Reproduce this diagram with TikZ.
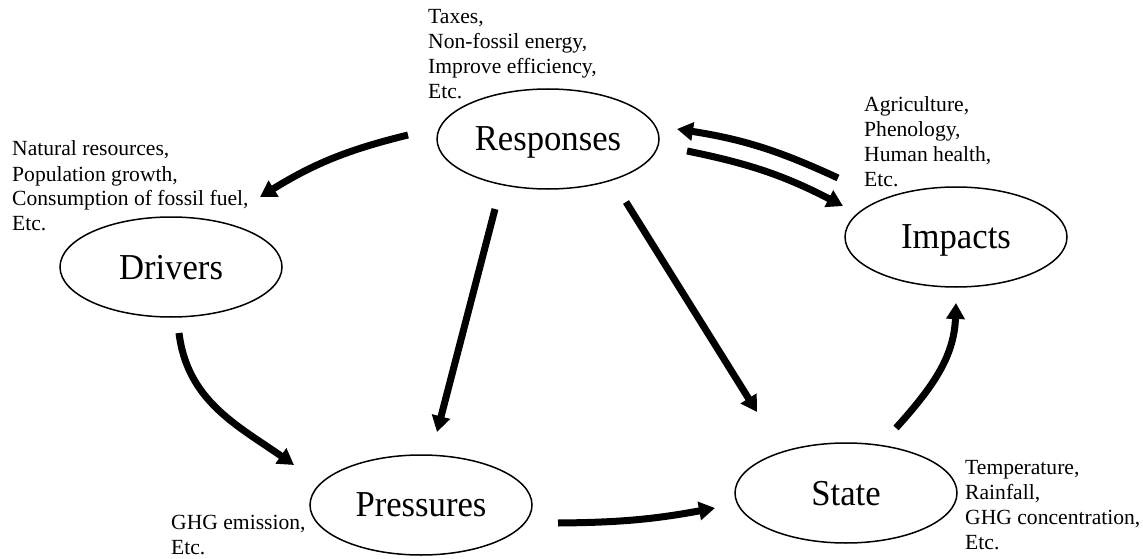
\documentclass[tikz,border=0pt]{standalone}
\usepackage{fontspec}
\setmainfont{Liberation Serif}
\newfontfamily\bigfont[FakeStretch=0.95]{Liberation Serif}
\usetikzlibrary{shapes.geometric,arrows.meta}
\begin{document}
\begin{tikzpicture}[x=1pt,y=1pt,
  oval/.style={ellipse,draw,line width=1.5pt,minimum width=222pt,minimum height=100pt,inner sep=0pt,text depth=0pt,font=\bigfont\fontsize{36.5}{40}\selectfont},
  note/.style={anchor=base west,inner sep=0pt,font=\fontsize{21.6}{25}\selectfont},
  arr/.style={line width=7pt,-{Triangle[length=16pt,width=18pt]}}]
\useasboundingbox (0,0) rectangle (1143,-559);
% ellipses
\node[oval] (resp) at (548,-139) {Responses};
\node[oval] (driv) at (171,-267) {Drivers};
\node[oval] (imp)  at (956,-237) {Impacts};
\node[oval] (pres) at (421,-505) {Pressures};
\node[oval] (stat) at (846,-493) {State};
% notes
\node[note] (nresp) at (428,-24) {\begin{tabular}[t]{@{}l@{}}Taxes,\\Non-fossil energy,\\Improve efficiency,\\Etc.\end{tabular}};
\node[note] (ndriv) at (12,-156) {\begin{tabular}[t]{@{}l@{}}Natural resources,\\Population growth,\\Consumption of fossil fuel,\\Etc.\end{tabular}};
\node[note] (nimp) at (864,-112) {\begin{tabular}[t]{@{}l@{}}Agriculture,\\Phenology,\\Human health,\\Etc.\end{tabular}};
\node[note] (npres) at (171,-529) {\begin{tabular}[t]{@{}l@{}}GHG emission,\\Etc.\end{tabular}};
\node[note] (nstat) at (965,-474) {\begin{tabular}[t]{@{}l@{}}Temperature,\\Rainfall,\\GHG concentration,\\Etc.\end{tabular}};
% connector end points
\coordinate (rd1) at (408,-135);  \coordinate (rd2) at (260,-197);
\coordinate (rp1) at (495,-209);  \coordinate (rp2) at (437,-432);
\coordinate (rs1) at (626,-202);  \coordinate (rs2) at (757,-412);
\coordinate (ir1) at (838,-178);  \coordinate (ir2) at (677,-129);
\coordinate (ri1) at (687,-151);  \coordinate (ri2) at (843,-206);
\coordinate (dp1) at (179,-333);  \coordinate (dp2) at (294,-465);
\coordinate (ps1) at (558,-523);  \coordinate (ps2) at (715,-508);
\coordinate (si1) at (896,-428);  \coordinate (si2) at (956,-303);
% connectors
\draw[arr] (rd1) to[bend right=9] (rd2);
\draw[arr] (rp1) -- (rp2);
\draw[arr] (rs1) -- (rs2);
\draw[arr] (ir1) to[bend right=8] (ir2);
\draw[arr] (ri1) to[bend left=8] (ri2);
\draw[arr] (dp1) to[out=-83,in=145] (dp2);
\draw[arr] (ps1) to[bend right=5] (ps2);
\draw[arr] (si1) to[out=48,in=-92] (si2);
\end{tikzpicture}
\end{document}
